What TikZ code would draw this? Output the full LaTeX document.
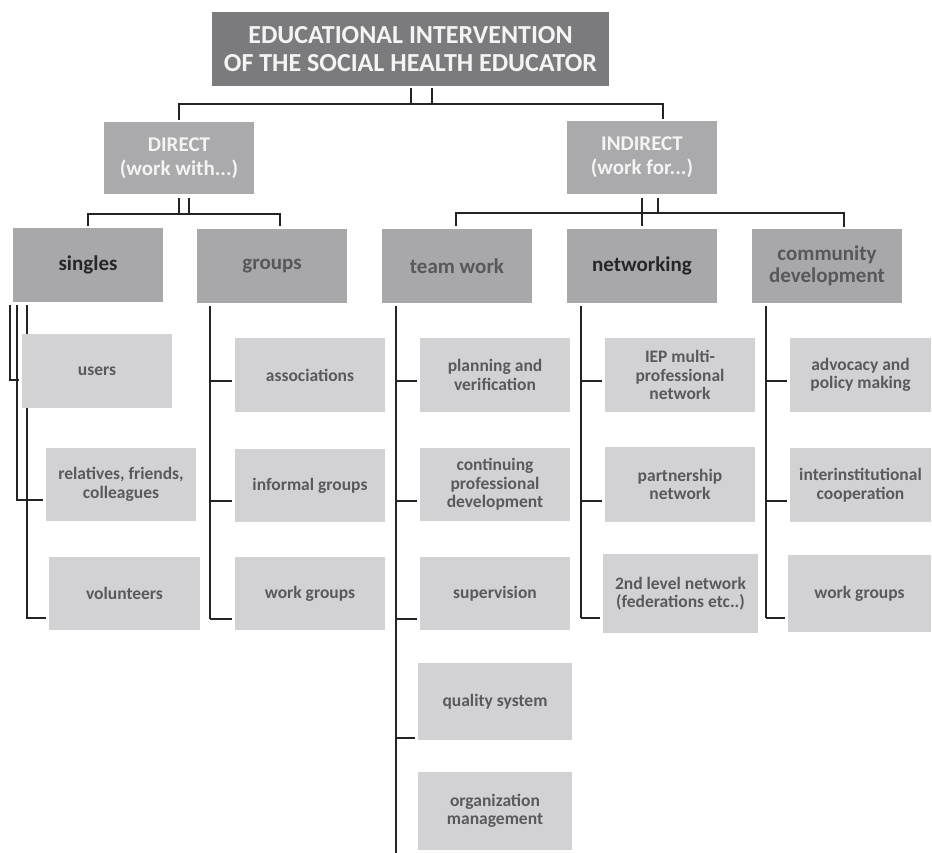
\documentclass[tikz,border=0pt]{standalone}
\usepackage{fontspec}
\setmainfont{Carlito}[BoldFont={Carlito Bold}]
\usetikzlibrary{backgrounds}
\definecolor{cTop}{RGB}{123,123,125}
\definecolor{cMid}{RGB}{170,170,172}
\definecolor{cLev}{RGB}{168,168,170}
\definecolor{cLeaf}{RGB}{210,210,212}
\definecolor{tLight}{RGB}{244,244,244}
\definecolor{tDark}{RGB}{38,38,40}
\definecolor{tGray}{RGB}{88,88,90}
\definecolor{tLeaf}{RGB}{90,90,92}
\definecolor{cLine}{RGB}{36,36,38}
\tikzset{
  box/.style={rectangle, inner sep=0pt, align=center, font=\bfseries},
  topbox/.style={box, fill=cTop, text=tLight, font=\fontsize{26}{28}\selectfont\bfseries},
  midbox/.style={box, fill=cMid, text=tLight, font=\fontsize{21}{24}\selectfont\bfseries},
  levbox/.style={box, fill=cLev, text=tGray, font=\fontsize{21}{21.5}\selectfont\bfseries},
  levdark/.style={levbox, text=tDark},
  leafbox/.style={box, fill=cLeaf, text=tLeaf, font=\fontsize{17.5}{18.5}\selectfont\bfseries},
  conn/.style={draw=cLine, line width=2.6pt},
  tick/.style={conn, shorten >=2.5pt},
}
\begin{document}
\begin{tikzpicture}[x=1pt,y=-1pt]
\useasboundingbox (0,0) rectangle (932,853);
% top
\node[topbox, minimum width=397pt, minimum height=74pt] (top) at (410.5,49) {EDUCATIONAL INTERVENTION\\OF THE SOCIAL HEALTH EDUCATOR};
% level 2
\node[midbox, minimum width=150pt, minimum height=72pt] (direct) at (179,158) {DIRECT\\(work with...)};
\node[midbox, minimum width=150pt, minimum height=73pt] (indirect) at (642,157.5) {INDIRECT\\(work for...)};
% level 3
\node[levdark, minimum width=150pt, minimum height=74pt] (singles) at (88,265) {singles};
\node[levbox, minimum width=150pt, minimum height=74pt] (groups) at (272,266) {groups};
\node[levbox, minimum width=150pt, minimum height=74pt] (team) at (457,266) {team work};
\node[levdark, minimum width=150pt, minimum height=74pt] (netw) at (642,266) {networking};
\node[levbox, minimum width=150pt, minimum height=74pt] (comm) at (827,266) {community\\development};
% leaves: singles
\node[leafbox, minimum width=150pt, minimum height=74pt] (users) at (97,371) {users};
\node[leafbox, minimum width=150pt, minimum height=73pt] (relat) at (121,484.5) {relatives, friends,\\colleagues};
\node[leafbox, minimum width=151pt, minimum height=73pt] (volun) at (124.5,593.5) {volunteers};
% leaves: groups
\node[leafbox, minimum width=150pt, minimum height=74pt] (assoc) at (310,375) {associations};
\node[leafbox, minimum width=150pt, minimum height=73pt] (informal) at (310,485.5) {informal groups};
\node[leafbox, minimum width=150pt, minimum height=73pt] (wgl) at (310,593.5) {work groups};
% leaves: team work
\node[leafbox, minimum width=150pt, minimum height=74pt] (plan) at (495,375) {planning and\\verification};
\node[leafbox, minimum width=150pt, minimum height=73pt] (cont) at (495,484.5) {continuing\\professional\\development};
\node[leafbox, minimum width=150pt, minimum height=73pt] (superv) at (495,593.5) {supervision};
\node[leafbox, minimum width=154pt, minimum height=77pt] (quality) at (495,701.5) {quality system};
\node[leafbox, minimum width=154pt, minimum height=78pt] (orgman) at (495,811) {organization\\management};
% leaves: networking
\node[leafbox, minimum width=150pt, minimum height=74pt] (iep) at (680,375) {IEP multi-\\professional\\network};
\node[leafbox, minimum width=150pt, minimum height=75pt] (partner) at (680,484.5) {partnership\\network};
\node[leafbox, minimum width=155pt, minimum height=79pt] (second) at (680.5,593.5) {2nd level network\\(federations etc..)};
% leaves: community
\node[leafbox, minimum width=141pt, minimum height=74pt] (advoc) at (860.5,375) {advocacy and\\policy making};
\node[leafbox, minimum width=141pt, minimum height=74pt] (inter) at (860.5,485) {interinstitutional\\cooperation};
\node[leafbox, minimum width=143pt, minimum height=77pt] (wgr) at (859.5,593.5) {work groups};
% helper coordinates
\coordinate (b0a) at (411,104); \coordinate (b0b) at (432,104);
\coordinate (indTop) at (663,119);
\coordinate (b1a) at (179,214); \coordinate (b1b) at (189,214);
\coordinate (grpTop) at (280,226);
\coordinate (b2a) at (642,213); \coordinate (b2b) at (658,213);
\coordinate (teamTop) at (456,226);
\coordinate (commTop) at (844,227);
\coordinate (sA) at (10,305); \coordinate (sB) at (17,305); \coordinate (sC) at (27,305);
\coordinate (gA) at (210,306); \coordinate (tA) at (396,306);
\coordinate (nA) at (581,306); \coordinate (cA) at (766,306);
\coordinate (tEnd) at (396,853);
\coordinate (r1) at (0,381); \coordinate (r2) at (0,501); \coordinate (r3) at (0,619);
\coordinate (r4) at (0,738); \coordinate (ru) at (0,380); \coordinate (rr) at (0,500); \coordinate (rv) at (0,618);
\begin{scope}[on background layer]
% top level
\draw[conn] ([yshift=-2pt]top.south -| b0a) -- (b0a);
\draw[conn] ([yshift=-2pt]top.south -| b0b) -- (b0b);
\draw[conn] ([yshift=2pt]direct.north) |- (b0a) -- (b0b) -| (indTop);
% direct
\draw[conn] ([yshift=-4pt]direct.south -| b1a) -- (b1a);
\draw[conn] ([yshift=-4pt]direct.south -| b1b) -- (b1b);
\draw[conn] ([yshift=2pt]singles.north) |- (b1a) -- (b1b) -| (grpTop);
% indirect
\draw[conn] ([yshift=-4pt]indirect.south -| b2b) -- (b2b);
\draw[conn] ([yshift=-4pt]indirect.south) -- ([yshift=3pt]netw.north);
\draw[conn] (teamTop) |- (b2a) -- (b2b) -| (commTop);
% singles children
\draw[tick] (sA) |- (ru -| users.west);
\draw[tick] (sB) |- (rr -| relat.west);
\draw[tick] (sC) |- (rv -| volun.west);
% groups children
\draw[conn] (gA) -- (gA |- r3);
\draw[tick] (gA |- r1) -- (r1 -| assoc.west);
\draw[tick] (gA |- r2) -- (r2 -| informal.west);
\draw[tick] (gA |- r3) -- (r3 -| wgl.west);
% team work children
\draw[conn] (tA) -- (tEnd);
\draw[tick] (tA |- r1) -- (r1 -| plan.west);
\draw[tick] (tA |- r2) -- (r2 -| cont.west);
\draw[tick] (tA |- r3) -- (r3 -| superv.west);
\draw[tick] (tA |- r4) -- (r4 -| quality.west);
% networking children
\draw[conn] (nA) -- (nA |- rv);
\draw[tick] (nA |- r1) -- (r1 -| iep.west);
\draw[tick] (nA |- r2) -- (r2 -| partner.west);
\draw[tick] (nA |- rv) -- (rv -| second.west);
% community children
\draw[conn] (cA) -- (cA |- rv);
\draw[tick] (cA |- r1) -- (r1 -| advoc.west);
\draw[tick] (cA |- r2) -- (r2 -| inter.west);
\draw[tick] (cA |- rv) -- (rv -| wgr.west);
\end{scope}
\end{tikzpicture}
\end{document}
